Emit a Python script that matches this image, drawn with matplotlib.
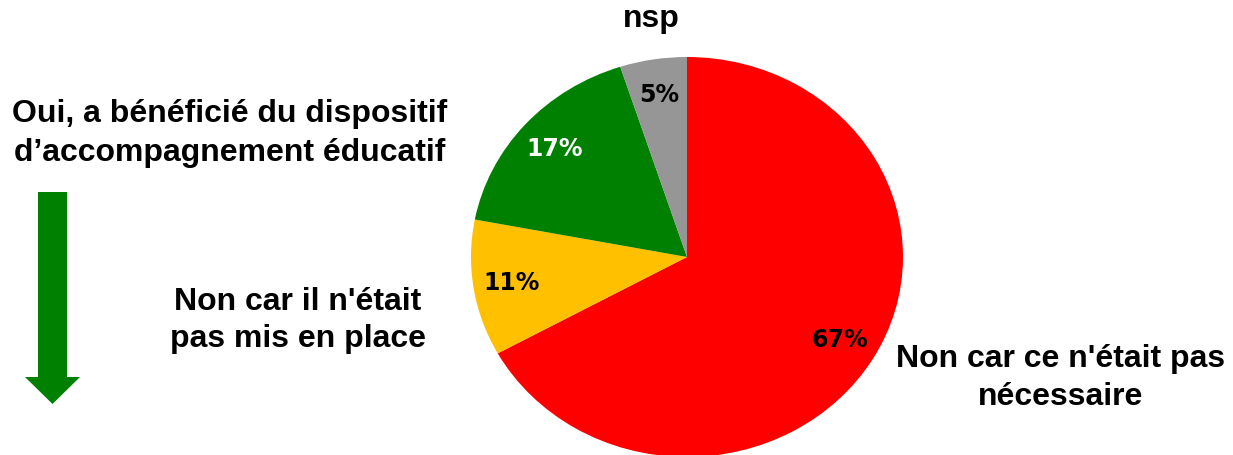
import matplotlib.pyplot as plt
from matplotlib.patches import FancyArrow

categories = ["Non car ce n'était pas\nnécessaire", "Non car il n'était\npas mis en place",
              "Oui, a bénéficié du dispositif\nd\u2019accompagnement éducatif", "nsp"]
values = [67, 11, 17, 5]
colors = ["#FF0000", "#FFC000", "#008000", "#969696"]
pct_colors = ["black", "black", "white", "black"]

W, H = 1233, 455
fig = plt.figure(figsize=(W / 100, H / 100), dpi=100)

# pie is slightly squashed vertically in the original (rx 216, ry 200 px)
cx, cy, rx, ry = 687, 257, 216, 200
ax = fig.add_axes([(cx - rx) / W, (H - cy - ry) / H, 2 * rx / W, 2 * ry / H])
wedges, _, autotexts = ax.pie(values, colors=colors, startangle=90, counterclock=False,
                              autopct="%d%%", pctdistance=0.82,
                              wedgeprops=dict(linewidth=0))
for t, c in zip(autotexts, pct_colors):
    t.set_color(c)
    t.set_fontsize(17)
    t.set_fontweight("bold")
    t.set_family("DejaVu Sans")
ax.set_aspect("auto")
ax.set_xlim(-1, 1)
ax.set_ylim(-1, 1)
ax.axis("off")

# overlay in pixel coordinates for the labels and the arrow
ov = fig.add_axes([0, 0, 1, 1], zorder=3)
ov.set_xlim(0, W)
ov.set_ylim(H, 0)
ov.axis("off")

# (x centre, first baseline, line gap) for each label, in pixels
label_pos = [(1061, 367, 38), (298, 310, 37), (230, 122, 39), (651, 27, 0)]
for text, (x, y, gap) in zip(categories, label_pos):
    for i, line in enumerate(text.split("\n")):
        ov.text(x, y + i * gap, line, fontsize=23, fontweight="bold",
                family="Liberation Sans", ha="center", va="baseline")

ov.add_patch(FancyArrow(52.5, 192, 0, 212, width=29, head_width=55, head_length=27,
                        length_includes_head=True, color="#008000", linewidth=0))

fig.savefig("out.png", dpi=100)
